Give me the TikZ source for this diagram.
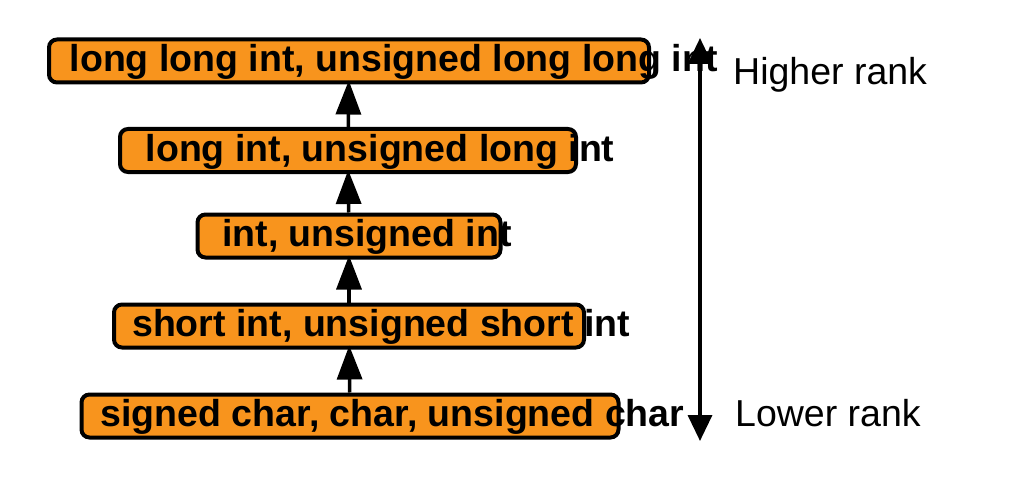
\documentclass[tikz,border=0pt]{standalone}
\usepackage{fontspec}
\setmainfont{Liberation Sans}
\usetikzlibrary{positioning, calc, arrows.meta}

\definecolor{rankfill}{RGB}{248,148,29}

\tikzset{
  rankbox/.style={draw, fill=rankfill, line width=4pt, rounded corners=8pt, minimum height=43pt, inner sep=0pt},
  typename/.style={anchor=base west, inner sep=0pt, font=\fontsize{37.5}{40}\selectfont\bfseries},
  ranklabel/.style={anchor=base west, inner sep=0pt, font=\fontsize{37.5}{40}\selectfont},
  promote/.style={-{Triangle[length=34pt, width=25pt]}, line width=3.5pt, shorten >=-4pt},
  rankaxis/.style={{Triangle[length=26pt, width=24pt]}-{Triangle[length=26pt, width=24pt]}, line width=3.5pt}
}

\begin{document}
\begin{tikzpicture}[x=1pt, y=-1pt]
	\useasboundingbox (0,0) rectangle (1012,484);
	% integer ranks, highest on top
	\node (b1) [rankbox, minimum width=600pt] at (349,61) {};
	\node (b2) [rankbox, minimum width=456pt] at (348,150.5) {};
	\node (b3) [rankbox, minimum width=303pt] at (349,236) {};
	\node (b4) [rankbox, minimum width=470pt] at (349,326) {};
	\node (b5) [rankbox, minimum width=537pt] at (350,416) {};
	
	\node (t1) [typename] at ($(b1.west)+(22.5,10.5)$) {long long int, unsigned long long int};
	\node (t2) [typename] at ($(b2.west)+(27.5,10.5)$) {long int, unsigned long int};
	\node (t3) [typename] at ($(b3.west)+(26.5,10.5)$) {int, unsigned int};
	\node (t4) [typename] at ($(b4.west)+(20,10.5)$) {short int, unsigned short int};
	\node (t5) [typename] at ($(b5.west)+(21,10)$) {signed char, char, unsigned char};
	
	\draw [promote] (b5) -- (b4);
	\draw [promote] (b4) -- (b3);
	\draw [promote] (b3) -- (b2);
	\draw [promote] (b2) -- (b1);
	
	% rank scale
	\coordinate (hi) at (700,38);
	\coordinate (lo) at (700,441);
	\draw [rankaxis] (lo) -- (hi);
	\node (lhi) [ranklabel] at (733,85) {Higher rank};
	\node (llo) [ranklabel] at (735,426) {Lower rank};
\end{tikzpicture}
\end{document}
